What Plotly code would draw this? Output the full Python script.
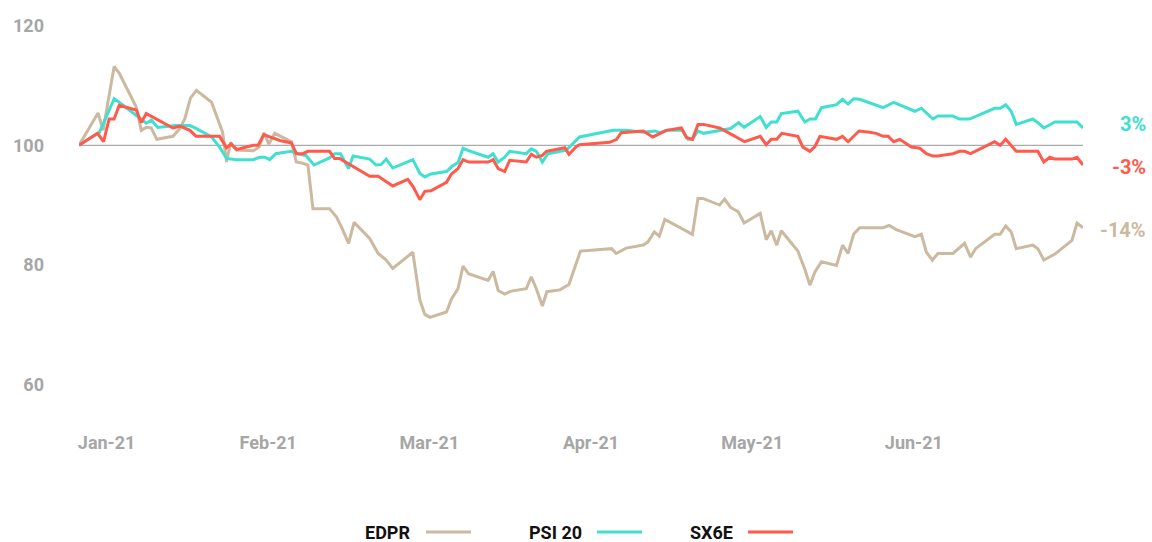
import plotly.graph_objects as go

# ---------------- data ----------------
# x = position along the period (0 = first session, 200 = last session)
edpr_x = [0.0, 3.8, 4.8, 7.0, 8.0, 11.4, 12.4, 13.4, 14.4, 15.5, 18.7, 20.1, 21.1, 22.2, 23.4,
          26.4, 28.6, 29.4, 30.2, 31.4, 34.7, 35.9, 36.9, 37.8, 39.0, 42.3, 43.3, 44.6, 45.6,
          46.6, 49.9, 51.3, 52.3, 53.7, 54.8, 57.9, 59.6, 61.2, 62.5, 66.5, 67.9, 68.9, 69.9,
          73.2, 74.2, 75.5, 76.5, 77.6, 81.5, 82.5, 83.5, 84.8, 86.1, 89.1, 90.1, 91.1, 92.3,
          93.2, 95.8, 97.6, 98.9, 99.9, 106.1, 107.0, 109.0, 112.4, 113.3, 114.6, 115.6, 116.7,
          122.2, 123.3, 124.3, 127.6, 128.6, 129.8, 131.3, 132.5, 135.7, 136.9, 137.9, 139.0,
          139.9, 143.2, 144.6, 145.6, 146.6, 147.9, 150.9, 152.1, 153.2, 154.3, 155.5, 160.2,
          161.4, 162.8, 166.5, 167.8, 168.8, 170.0, 171.1, 174.1, 176.4, 177.6, 178.6, 182.4,
          183.5, 184.6, 185.7, 186.7, 190.0, 191.0, 192.2, 194.4, 197.8, 198.8, 200.0]
edpr_y = [100.0, 105.4, 102.5, 113.2, 112.1, 106.4, 102.5, 103.0, 102.9, 101.0, 101.5, 102.8,
          104.5, 107.9, 109.2, 107.2, 102.2, 97.2, 100.5, 99.2, 99.1, 99.7, 102.1, 100.2, 102.0,
          100.6, 97.2, 97.0, 96.7, 89.4, 89.4, 88.0, 86.3, 83.6, 87.1, 84.4, 81.9, 80.8, 79.4,
          82.1, 74.1, 71.7, 71.2, 72.1, 74.3, 76.0, 79.8, 78.5, 77.4, 78.9, 75.7, 75.1, 75.6,
          76.0, 78.0, 76.0, 73.1, 75.5, 75.8, 76.7, 79.9, 82.3, 82.7, 81.9, 82.8, 83.3, 83.8,
          85.5, 84.8, 87.6, 85.1, 91.1, 91.1, 90.0, 91.0, 89.6, 88.9, 87.0, 88.6, 84.2, 85.7,
          83.3, 85.7, 82.3, 79.2, 76.6, 78.8, 80.5, 79.9, 83.3, 81.9, 85.1, 86.2, 86.2, 86.6,
          85.9, 84.7, 85.1, 82.1, 80.8, 81.9, 81.9, 83.6, 81.3, 82.7, 85.1, 85.1, 86.5, 85.5,
          82.7, 83.3, 82.7, 80.8, 81.8, 84.1, 87.0, 86.2]

psi_x = [0.0, 4.1, 7.0, 8.0, 11.4, 13.4, 14.4, 15.7, 19.1, 22.1, 23.4, 26.4, 28.0, 29.4, 31.4,
         34.7, 36.0, 37.0, 38.0, 39.2, 40.0, 42.3, 43.4, 45.2, 46.8, 49.9, 50.9, 52.1, 53.7,
         54.6, 57.9, 59.2, 60.2, 61.2, 62.5, 66.5, 67.9, 68.9, 70.1, 73.2, 74.2, 75.5, 76.5,
         77.6, 81.5, 82.5, 83.5, 84.8, 85.8, 89.1, 90.1, 91.1, 92.3, 93.4, 97.1, 98.4, 99.7,
         106.4, 109.0, 112.4, 114.7, 115.7, 117.1, 120.2, 121.3, 122.2, 123.3, 124.4, 128.0,
         129.8, 131.4, 132.5, 135.7, 136.9, 137.9, 139.0, 139.9, 143.2, 144.6, 145.6, 146.7,
         147.9, 150.9, 152.1, 153.2, 154.3, 155.5, 157.5, 160.2, 162.3, 166.5, 167.8, 170.1,
         171.1, 174.1, 175.4, 177.4, 182.4, 183.5, 184.6, 185.7, 186.7, 190.0, 191.0, 192.2,
         194.4, 198.8, 200.0]
psi_y = [100.0, 102.2, 107.8, 107.2, 105.0, 103.7, 104.2, 103.0, 103.3, 103.3, 102.8, 101.4,
         99.7, 97.8, 97.6, 97.6, 98.0, 98.0, 97.6, 98.6, 98.7, 99.0, 98.6, 98.3, 96.7, 97.9,
         98.6, 98.6, 96.1, 98.2, 97.7, 96.7, 96.8, 97.7, 96.2, 97.6, 95.3, 94.7, 95.2, 95.6,
         96.4, 97.1, 99.5, 99.1, 98.0, 98.6, 97.2, 98.0, 99.0, 98.6, 99.4, 99.0, 97.2, 98.6,
         99.2, 100.3, 101.4, 102.5, 102.5, 102.2, 102.4, 102.1, 102.5, 102.5, 101.0, 101.0,
         102.4, 102.0, 102.6, 102.8, 103.8, 103.0, 104.8, 103.0, 103.9, 103.9, 105.3, 105.7,
         103.9, 104.4, 104.4, 106.3, 106.8, 107.7, 106.9, 107.8, 107.7, 107.1, 106.3, 107.2,
         105.7, 106.2, 104.4, 104.9, 104.9, 104.4, 104.4, 106.2, 106.2, 106.8, 105.7, 103.5,
         104.4, 103.8, 102.9, 103.9, 103.9, 102.9]

sx_x = [0.0, 3.7, 4.9, 6.0, 7.0, 8.0, 11.4, 12.4, 13.4, 18.7, 20.1, 22.1, 23.3, 28.0, 29.4,
        30.3, 31.4, 34.7, 35.7, 36.8, 38.0, 40.0, 42.3, 43.3, 44.6, 45.6, 49.9, 50.9, 51.9,
        53.7, 57.9, 59.6, 60.9, 62.5, 65.5, 66.6, 67.9, 68.9, 70.1, 73.2, 74.2, 75.5, 76.5,
        77.6, 81.5, 82.5, 83.5, 84.8, 85.8, 89.1, 90.1, 91.1, 92.3, 93.1, 96.8, 97.6, 99.1,
        99.7, 105.7, 107.1, 108.0, 112.4, 114.3, 117.0, 120.0, 121.0, 122.2, 123.3, 124.4,
        127.6, 129.6, 132.6, 135.7, 136.9, 137.9, 139.0, 140.0, 143.2, 144.2, 145.6, 146.6,
        147.6, 150.9, 152.1, 153.2, 155.4, 157.5, 158.8, 160.2, 161.2, 162.3, 163.5, 165.8,
        167.5, 168.8, 170.1, 171.1, 174.1, 175.4, 176.4, 177.6, 182.4, 183.5, 184.6, 186.7,
        191.0, 192.2, 193.4, 194.4, 197.8, 198.8, 200.0]
sx_y = [100.0, 102.0, 100.6, 104.4, 104.4, 106.7, 105.9, 103.8, 105.3, 102.9, 103.2, 102.5,
        101.5, 101.5, 99.6, 100.2, 99.3, 100.0, 100.0, 101.8, 101.4, 100.8, 100.4, 98.6, 98.6,
        99.0, 99.0, 97.8, 97.8, 96.9, 94.8, 94.8, 94.1, 93.2, 94.3, 93.0, 90.9, 92.3, 92.4,
        93.8, 95.2, 96.1, 97.6, 97.2, 97.2, 97.6, 96.1, 95.6, 97.5, 97.2, 98.5, 98.0, 98.3,
        99.0, 99.6, 98.5, 99.8, 100.1, 100.5, 101.0, 102.1, 102.4, 101.4, 102.5, 102.9, 101.3,
        101.0, 103.5, 103.5, 102.9, 102.0, 100.6, 101.5, 100.1, 101.0, 101.0, 102.0, 101.5,
        99.7, 99.0, 99.8, 101.5, 101.0, 101.5, 100.6, 102.4, 102.2, 102.0, 101.5, 101.5, 100.6,
        101.0, 99.7, 99.5, 98.6, 98.2, 98.2, 98.6, 99.0, 99.0, 98.6, 100.6, 100.0, 101.0, 99.0,
        99.0, 97.2, 98.0, 97.7, 97.7, 98.0, 96.7]

month_labels = ["Jan-21", "Feb-21", "Mar-21", "Apr-21", "May-21", "Jun-21"]
month_pos = [5.5, 37.7, 69.8, 102.0, 134.1, 166.3]
y_ticks = [60, 80, 100, 120]
series_names = ["EDPR", "PSI 20", "SX6E"]
base_value = 100

# ---------------- styling ----------------
colors = ["#CBB9A0", "#40E0D0", "#FF5A4B"]
FONT = "Roboto"
GREY = "#A6A6A6"
W, H = 1152, 542
ML, MR, MT, MB = 79, 69, 20, 117
PW, PH = W - ML - MR, H - MT - MB

fig = go.Figure()
series = [(edpr_x, edpr_y), (psi_x, psi_y), (sx_x, sx_y)]
for (xs, ys), name, col in zip(series, series_names, colors):
    fig.add_trace(go.Scatter(x=xs, y=ys, mode="lines", name=name,
                             line=dict(color=col, width=3), showlegend=False,
                             hoverinfo="skip"))

fig.add_hline(y=base_value, line_color="#ABABAB", line_width=1.2, layer="below")

# end-of-series % labels
label_shift = [-2, 4, -2]
for (xs, ys), col, dy in zip(series, colors, label_shift):
    pct = round(ys[-1] - base_value)
    fig.add_annotation(x=1, xref="paper", y=ys[-1], yref="y", xanchor="right",
                       yanchor="middle", xshift=65, yshift=dy, showarrow=False,
                       text=f"{pct}%", font=dict(family=FONT, size=20, color=col, weight="bold"))

# custom legend (text then line swatch)
legend_px = [(363, 426, 471), (527, 597, 642), (688, 748, 793)]
ly = (MT + PH - 532) / PH
for (tx, l0, l1), name, col in zip(legend_px, series_names, colors):
    fig.add_annotation(x=(tx - ML) / PW, xref="paper", y=ly, yref="paper",
                       xanchor="left", yanchor="middle", showarrow=False, text=name,
                       height=18, valign="middle",
                       font=dict(family=FONT, size=18, color="#111111", weight="bold"))
    fig.add_shape(type="line", xref="paper", yref="paper",
                  x0=(l0 - ML) / PW, x1=(l1 - ML) / PW, y0=ly, y1=ly,
                  line=dict(color=col, width=3))

fig.update_layout(
    width=W, height=H, margin=dict(l=ML, r=MR, t=MT, b=MB),
    paper_bgcolor="white", plot_bgcolor="white",
    font=dict(family=FONT, color=GREY),
    xaxis=dict(range=[0, 200], tickmode="array", tickvals=month_pos, ticktext=month_labels,
               showgrid=False, zeroline=False, showline=False, ticks="",
               tickfont=dict(family=FONT, size=18, color=GREY, weight="bold"),
               ticklabelstandoff=5),
    yaxis=dict(range=[53.19, 120.97], tickmode="array", tickvals=y_ticks,
               showgrid=False, zeroline=False, showline=False, ticks="",
               tickfont=dict(family=FONT, size=18, color=GREY, weight="bold"),
               ticklabelstandoff=34),
)

fig.write_html("out.html", config={"displayModeBar": False},
               post_script="document.body.style.margin='0px';document.body.style.overflow='hidden';")
